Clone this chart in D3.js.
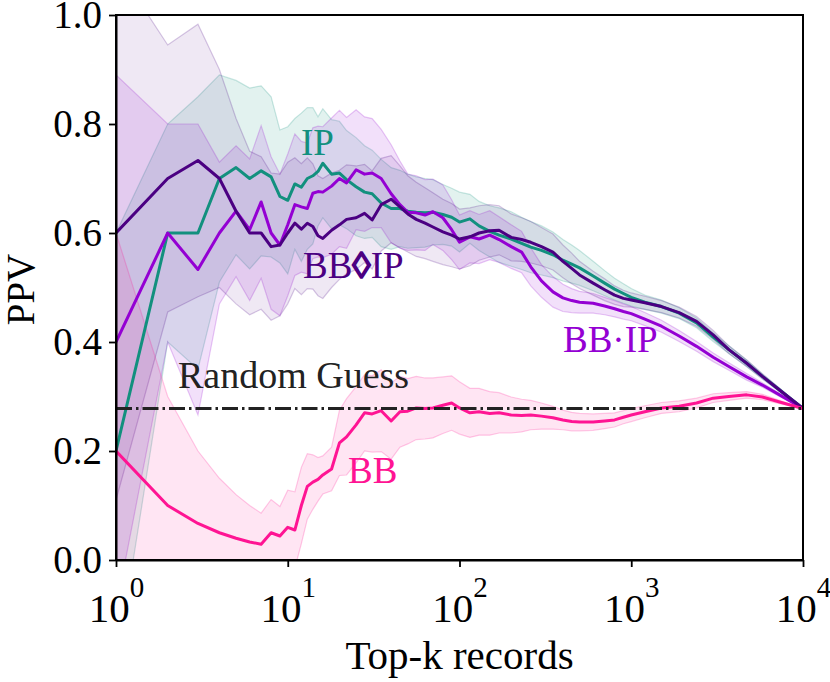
<!DOCTYPE html>
<html>
<head>
<meta charset="utf-8">
<script src="https://cdn.jsdelivr.net/npm/d3@7"></script>
<style>
  body { margin: 0; background: #fff; }
</style>
</head>
<body>
<div id="chart"></div>
<script>
// top-k values (x axis)
const topK = [1,2,3,4,5,6,7,8,9,10,
  11,12,13,14,15,16,18,20,22,25,
  28,31,35,40,45,50,56,63,70,80,
  90,100,115,130,150,170,200,230,260,300,
  350,400,450,500,600,700,800,900,1000,1200,
  1500,1900,2400,3000,3700,4700,5800,7300,10000];

// IP
const ipMean = [0.2,0.6,0.6,0.70,0.72,0.70,0.714,0.703,0.667,0.66,
  0.69,0.684,0.70,0.705,0.713,0.728,0.708,0.71,0.698,0.685,
  0.675,0.672,0.655,0.645,0.645,0.64,0.638,0.637,0.638,0.634,
  0.629,0.62,0.626,0.613,0.603,0.596,0.589,0.581,0.574,0.568,
  0.56,0.55,0.543,0.536,0.521,0.508,0.497,0.489,0.482,0.473,
  0.465,0.453,0.435,0.409,0.386,0.361,0.337,0.312,0.278];
const ipStd = [0.4,0.2,0.25,0.19,0.16,0.166,0.156,0.147,0.122,0.135,
  0.12,0.136,0.13,0.125,0.1,0.1,0.1,0.095,0.09,0.09,
  0.085,0.08,0.08,0.075,0.07,0.068,0.065,0.063,0.06,0.055,
  0.053,0.055,0.045,0.045,0.047,0.05,0.05,0.048,0.047,0.045,
  0.042,0.038,0.035,0.032,0.027,0.023,0.02,0.018,0.016,0.013,
  0.012,0.01,0.009,0.008,0.007,0.006,0.004,0.003,0];

// BB◇IP
const diaMean = [0.6,0.70,0.733,0.70,0.64,0.60,0.60,0.575,0.578,0.60,
  0.618,0.607,0.618,0.612,0.595,0.59,0.605,0.615,0.625,0.628,
  0.636,0.624,0.652,0.662,0.648,0.635,0.625,0.618,0.611,0.602,
  0.596,0.589,0.593,0.60,0.604,0.605,0.592,0.588,0.583,0.575,
  0.565,0.548,0.535,0.523,0.508,0.496,0.486,0.48,0.477,0.472,
  0.465,0.454,0.438,0.413,0.386,0.361,0.337,0.312,0.278];
const diaStd = [0.49,0.245,0.25,0.2,0.17,0.15,0.14,0.135,0.13,0.13,
  0.12,0.12,0.12,0.115,0.11,0.11,0.105,0.1,0.1,0.095,
  0.09,0.09,0.085,0.08,0.075,0.07,0.068,0.065,0.063,0.06,
  0.058,0.055,0.053,0.05,0.048,0.045,0.043,0.04,0.038,0.035,
  0.033,0.03,0.028,0.025,0.022,0.02,0.017,0.015,0.013,0.012,
  0.011,0.01,0.009,0.008,0.007,0.006,0.005,0.003,0];

// BB·IP
const dotMean = [0.4,0.6,0.533,0.60,0.64,0.606,0.657,0.60,0.578,0.615,
  0.652,0.648,0.645,0.673,0.676,0.675,0.686,0.70,0.692,0.716,
  0.708,0.71,0.70,0.672,0.652,0.638,0.637,0.633,0.639,0.628,
  0.606,0.583,0.593,0.589,0.596,0.588,0.575,0.565,0.538,0.512,
  0.492,0.481,0.476,0.473,0.471,0.466,0.461,0.456,0.452,0.442,
  0.429,0.411,0.392,0.372,0.355,0.336,0.321,0.303,0.278];
const dotStd = [0.49,0.2,0.267,0.13,0.12,0.13,0.14,0.14,0.13,0.13,
  0.13,0.12,0.12,0.12,0.12,0.12,0.125,0.125,0.12,0.11,
  0.105,0.1,0.09,0.09,0.08,0.07,0.068,0.065,0.06,0.06,
  0.055,0.05,0.048,0.045,0.045,0.042,0.04,0.038,0.035,0.03,
  0.028,0.025,0.022,0.02,0.018,0.016,0.015,0.014,0.013,0.012,
  0.011,0.01,0.009,0.008,0.007,0.006,0.004,0.003,0];

// BB
const bbMean = [0.2,0.10,0.067,0.05,0.04,0.033,0.029,0.05,0.044,0.06,
  0.055,0.10,0.135,0.143,0.148,0.156,0.167,0.215,0.226,0.248,
  0.27,0.268,0.274,0.255,0.272,0.273,0.279,0.278,0.279,0.284,
  0.288,0.279,0.27,0.272,0.269,0.27,0.266,0.265,0.266,0.264,
  0.261,0.257,0.254,0.253,0.253,0.255,0.257,0.262,0.266,0.272,
  0.279,0.282,0.288,0.297,0.30,0.303,0.299,0.29,0.278];
const bbStd = [0.4,0.2,0.133,0.1,0.08,0.067,0.057,0.061,0.054,0.068,
  0.07,0.07,0.06,0.05,0.04,0.035,0.04,0.06,0.07,0.07,
  0.07,0.07,0.075,0.07,0.065,0.06,0.058,0.056,0.055,0.052,
  0.05,0.048,0.045,0.043,0.04,0.037,0.033,0.03,0.027,0.024,
  0.021,0.018,0.017,0.016,0.015,0.014,0.013,0.012,0.012,0.011,
  0.01,0.01,0.009,0.008,0.007,0.006,0.005,0.003,0];

const randomGuess = 0.278;
const yTicks = [0, 0.2, 0.4, 0.6, 0.8, 1.0];
const xTicks = [1, 10, 100, 1000, 10000];

const serif = '"Liberation Serif", "Times New Roman", Tinos, Times, "DejaVu Serif", serif';

const width = 830, height = 682;
const margin = {top: 15, right: 27, bottom: 122, left: 116};

const svg = d3.select('#chart').append('svg')
  .attr('width', width)
  .attr('height', height)
  .attr('font-family', serif);

const x = d3.scaleLog()
  .domain([1, 10000])
  .range([margin.left, width - margin.right]);
const y = d3.scaleLinear()
  .domain([0, 1])
  .range([height - margin.bottom, margin.top]);

svg.append('clipPath').attr('id', 'plot-clip')
  .append('rect')
  .attr('x', margin.left).attr('y', margin.top)
  .attr('width', width - margin.left - margin.right)
  .attr('height', height - margin.top - margin.bottom);

const series = [
  {name: 'IP', mean: ipMean, std: ipStd, color: '#12907e', fillOpacity: 0.12},
  {name: 'BB·IP', mean: dotMean, std: dotStd, color: '#9400d3', fillOpacity: 0.12},
  {name: 'BB◇IP', mean: diaMean, std: diaStd, color: '#4b0082', fillOpacity: 0.09},
  {name: 'BB', mean: bbMean, std: bbStd, color: '#ff1493', fillOpacity: 0.11}
];

const plot = svg.append('g').attr('clip-path', 'url(#plot-clip)');

const area = d3.area()
  .x((d, i) => x(topK[i]));

// bands first
series.forEach(s => {
  const band = area
    .y0((d, i) => y(s.mean[i] - s.std[i]))
    .y1((d, i) => y(s.mean[i] + s.std[i]));
  plot.append('path')
    .datum(s.mean)
    .attr('d', band)
    .attr('fill', s.color)
    .attr('fill-opacity', s.fillOpacity)
    .attr('stroke', s.color)
    .attr('stroke-opacity', 0.22)
    .attr('stroke-width', 1.2);
});

const line = d3.line()
  .x((d, i) => x(topK[i]))
  .y(d => y(d));

series.forEach(s => {
  plot.append('path')
    .datum(s.mean)
    .attr('d', line)
    .attr('fill', 'none')
    .attr('stroke', s.color)
    .attr('stroke-width', 3)
    .attr('stroke-linejoin', 'round');
});

// random guess baseline
plot.append('path')
  .datum([1, 10000])
  .attr('d', d3.line().x(d => x(d)).y(() => y(randomGuess)))
  .attr('stroke', '#222')
  .attr('stroke-width', 3)
  .attr('stroke-dasharray', '16,4,2.5,4');

// frame
svg.append('rect')
  .attr('x', margin.left).attr('y', margin.top)
  .attr('width', width - margin.left - margin.right)
  .attr('height', height - margin.top - margin.bottom)
  .attr('fill', 'none')
  .attr('stroke', '#000')
  .attr('stroke-width', 2);

// axes
const yAxis = svg.append('g')
  .attr('transform', `translate(${margin.left},0)`)
  .call(d3.axisLeft(y).tickValues(yTicks).tickFormat(d3.format('.1f'))
    .tickSize(7).tickSizeOuter(0).tickPadding(7));
yAxis.attr('font-family', serif);
yAxis.selectAll('text').attr('font-size', 39).attr('fill', '#000');

const xAxis = svg.append('g')
  .attr('transform', `translate(0,${height - margin.bottom})`)
  .call(d3.axisBottom(x).tickValues(xTicks).tickFormat('')
    .tickSize(7).tickSizeOuter(0));
xAxis.attr('font-family', serif);
xAxis.selectAll('.tick').each(function(d) {
  const t = d3.select(this).append('text')
    .attr('y', 62)
    .attr('fill', '#000')
    .attr('text-anchor', 'middle')
    .attr('font-size', 41);
  t.append('tspan').text('10');
  t.append('tspan').attr('dy', -25).attr('font-size', 29).text(Math.round(Math.log10(d)));
});
svg.selectAll('.domain').attr('stroke-width', 2);
svg.selectAll('.tick line').attr('stroke-width', 1.8);

// axis titles
svg.append('text')
  .attr('x', (margin.left + width - margin.right) / 2)
  .attr('y', 669)
  .attr('text-anchor', 'middle')
  .attr('font-size', 41)
  .text('Top-k records');

svg.append('text')
  .attr('transform', `translate(34,${(margin.top + height - margin.bottom) / 2 + 2}) rotate(-90)`)
  .attr('text-anchor', 'middle')
  .attr('font-size', 39)
  .text('PPV');

// in-plot labels
const labels = [
  {text: 'IP', x: 301, y: 155, color: '#12907e'},
  {text: 'BB·IP', x: 563, y: 352, color: '#9400d3'},
  {text: 'BB', x: 348, y: 483, color: '#ff1493'}
];
labels.forEach(l => {
  svg.append('text')
    .attr('x', l.x).attr('y', l.y)
    .attr('fill', l.color)
    .attr('font-size', 37)
    .text(l.text);
});

const dia = svg.append('text')
  .attr('x', 303).attr('y', 278)
  .attr('fill', '#4b0082')
  .attr('font-size', 37);
dia.append('tspan').text('BB');
dia.append('tspan')
  .attr('stroke', '#4b0082')
  .attr('stroke-width', 1.6)
  .text('◊');
dia.append('tspan').text('IP');

svg.append('text')
  .attr('x', 178).attr('y', 388)
  .attr('fill', '#222')
  .attr('font-size', 38)
  .text('Random Guess');
</script>
</body>
</html>
